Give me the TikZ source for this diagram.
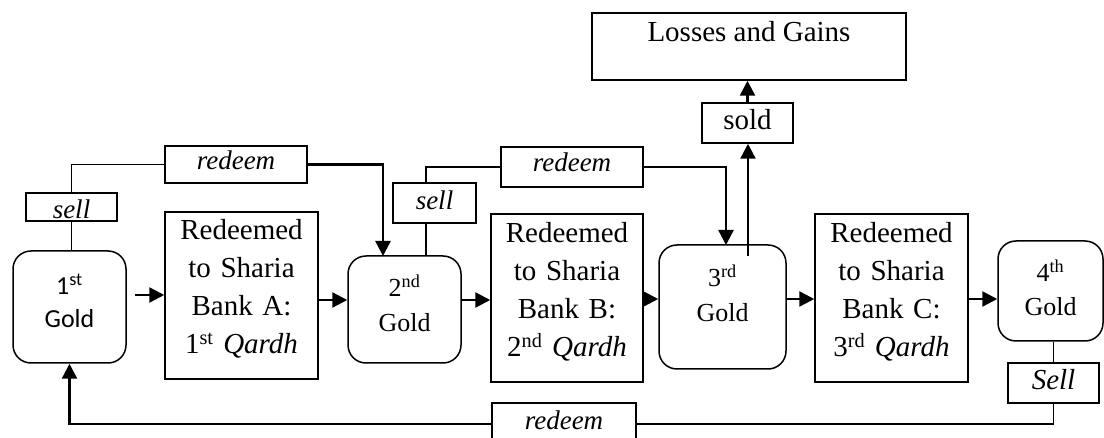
\documentclass[tikz,border=0pt]{standalone}
\usepackage{fontspec}
\setmainfont{Liberation Serif}
\newfontfamily\calibrifont{Carlito}
\usetikzlibrary{arrows.meta}
\begin{document}
\begin{tikzpicture}[x=1pt,y=-1pt,
  box/.style={draw, line width=1.5pt, inner sep=0pt, fill=white},
  gold/.style={box, rounded corners=18pt},
  bigtxt/.style={anchor=base, inner sep=0pt, text width=160pt, align=center, font=\fontsize{29}{38}\selectfont},
  goldtxt/.style={anchor=base, inner sep=0pt, text width=110pt, align=center, font=\fontsize{26}{35}\selectfont},
  lbl/.style={anchor=base, inner sep=0pt, font=\fontsize{27}{30}\selectfont\itshape},
  conn/.style={line width=1.6pt},
  arr/.style={line width=2.4pt, -{Triangle[length=15pt,width=15pt]}}
]
\useasboundingbox (0,0) rectangle (1104,438);

% connectors drawn first so label boxes sit on top
\coordinate (g2in) at (383,256);
\coordinate (g2top) at (426,256);
\coordinate (g3in) at (726,245);
\coordinate (g3out) at (748,256);
\coordinate (a1) at (135,295);

% main boxes
\node[gold, minimum width=113pt, minimum height=112pt] (g1) at (69.5,307) {};
\node[box, minimum width=153pt, minimum height=167pt] (A) at (241.5,295.5) {};
\node[gold, minimum width=113pt, minimum height=107pt] (g2) at (404.5,309.5) {};
\node[box, minimum width=152pt, minimum height=168pt] (B) at (567,298) {};
\node[gold, minimum width=127pt, minimum height=124pt] (g3) at (722.5,307) {};
\node[box, minimum width=153pt, minimum height=168pt] (C) at (891.5,298) {};
\node[gold, minimum width=105pt, minimum height=100pt] (g4) at (1050.5,291) {};
\node[box, minimum width=314pt, minimum height=67pt] (L) at (749,46.5) {};

% connectors
\draw[arr] (a1) -- (a1 -| A.west);
\draw[arr] (A.east |- 0,300) -- (g2.west |- 0,300);
\draw[arr] (g2.east |- 0,300) -- (B.west |- 0,300);
\draw[arr] (B.east |- 0,299) -- (g3.west |- 0,299);
\draw[arr] (g3.east |- 0,299) -- (C.west |- 0,299);
\draw[arr] (C.east |- 0,299) -- (g4.west |- 0,299);

% label boxes
\node[box, minimum width=142pt, minimum height=37pt] (r1) at (236,164.5) {};
\node[box, minimum width=91pt, minimum height=28pt] (s1) at (71.5,207) {};
\node[box, minimum width=83pt, minimum height=40pt] (s2) at (434.5,203) {};
\node[box, minimum width=142pt, minimum height=40pt] (r2) at (572,167) {};
\node[box, minimum width=91pt, minimum height=40pt] (sold) at (747.5,123) {};
\node[box, minimum width=91pt, minimum height=40pt] (S4) at (1053.5,383) {};
\node[box, minimum width=144pt, minimum height=42pt] (r3) at (564,424) {};

\draw[conn] (g1.north -| s1.south) -- (s1.south);
\draw[conn] (s1.north) |- (r1.west);
\draw[arr] (r1.east) -| (g2in);
\draw[conn] (g2top) -- (g2top |- s2.south);
\draw[conn] (s2.north -| g2top) |- (r2.west);
\draw[arr] (r2.east) -| (g3in);
\draw[arr] (g3out) -- (g3out |- sold.south);
\draw[arr] (sold.north) -- (L.south -| sold.north);
\draw[conn] (g4.south -| S4.north) -- (S4.north);
\draw[conn] (S4.south) |- (r3.east);
\draw[arr] (r3.west) -| (g1.south);

% texts
\node[goldtxt, font=\fontsize{26}{33}\selectfont\calibrifont] (g1t) at (69.5,295) {1\textsuperscript{st}\\Gold};
\node[bigtxt] (At) at (241.5,240) {Redeemed\\to Sharia\\Bank A:\\1\textsuperscript{st} \textit{Qardh}};
\node[goldtxt] (g2t) at (404.5,297) {2\textsuperscript{nd}\\Gold};
\node[bigtxt] (Bt) at (567,243) {Redeemed\\to Sharia\\Bank B:\\2\textsuperscript{nd} \textit{Qardh}};
\node[goldtxt] (g3t) at (722.5,287) {3\textsuperscript{rd}\\Gold};
\node[bigtxt] (Ct) at (891.5,243) {Redeemed\\to Sharia\\Bank C:\\3\textsuperscript{rd} \textit{Qardh}};
\node[goldtxt, font=\fontsize{26}{34}\selectfont] (g4t) at (1050.5,282) {4\textsuperscript{th}\\Gold};
\node[anchor=base, inner sep=0pt, font=\fontsize{29}{34}\selectfont] (Lt) at (749,42) {Losses and Gains};
\node[anchor=base, inner sep=0pt, font=\fontsize{29}{34}\selectfont] (soldt) at (747.5,130) {sold};
\node[lbl] (r1t) at (236,170) {redeem};
\node[lbl] (s1t) at (71.5,219) {sell};
\node[lbl] (s2t) at (434.5,210) {sell};
\node[lbl] (r2t) at (572,172) {redeem};
\node[lbl, font=\fontsize{29}{30}\selectfont\itshape] (S4t) at (1053.5,390) {Sell};
\node[lbl] (r3t) at (564,430) {redeem};
\end{tikzpicture}
\end{document}
